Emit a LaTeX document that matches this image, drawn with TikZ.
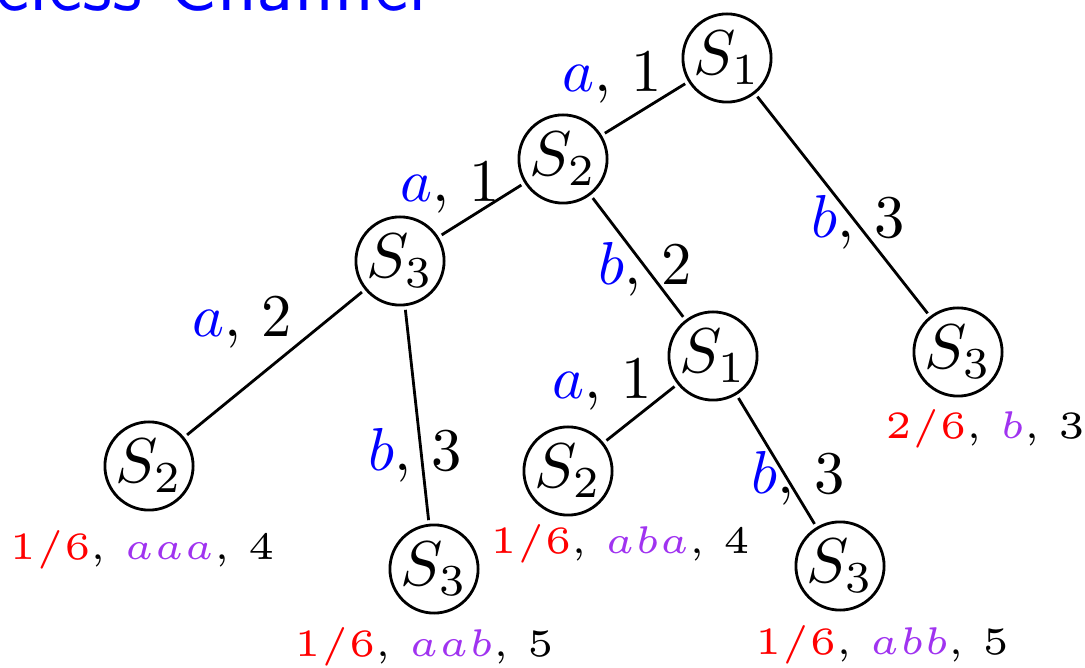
\documentclass[tikz,border=0pt]{standalone}
\usepackage{xcolor}
\usetikzlibrary{positioning}
\definecolor{ChanBlue}{HTML}{0000FF}
\definecolor{ChanRed}{HTML}{FF0000}
\definecolor{ChanPurple}{HTML}{A033F0}
\tikzset{
    % State node
    state/.style={
        circle,
        draw=black,
        line width=1.6pt,
        inner sep=0pt,
        minimum size=0.49cm,
        scale=3.6
    },
    % Edge label
    edgelabel/.style={
        inner sep=0pt,
        scale=3.45
    },
    % Leaf label
    leaf/.style={
        inner sep=0pt,
        font=\tiny,
        scale=4.4
    },
    % Tree branch
    branch/.style={
        line width=1.6pt,
        color=black
    }
}
\newcommand{\sym}[2]{\textcolor{ChanBlue}{$#1$}, $#2$}
\newcommand{\leafinfo}[3]{\textcolor{ChanRed}{$#1$}, \textcolor{ChanPurple}{$#2$}, $#3$}

\begin{document}
\begin{tikzpicture}[x=0.02cm, y=-0.02cm]
        \useasboundingbox (0,0) rectangle (1085,668);

        % Title (cut by the frame)
        \node (title) [anchor=base west, inner sep=0pt, text=ChanBlue, font=\sffamily, scale=4.4] at (-6,11) {eless Channel};

        % States
        \node (s1) [state] at (727,58) {$S_1$};
        \node (s2) [state] at (563,159) {$S_2$};
        \node (s3) [state] at (400,261) {$S_3$};
        \node (s3r) [state] at (958,352) {$S_3$};
        \node (s1m) [state] at (713,356) {$S_1$};
        \node (s2l) [state] at (149,466) {$S_2$};
        \node (s2m) [state] at (568,471) {$S_2$};
        \node (s3b) [state] at (434,569) {$S_3$};
        \node (s3rr) [state] at (840,566) {$S_3$};

        % Branches
        \draw [branch] (s1) -- (s2);
        \draw [branch] (s1) -- (s3r);
        \draw [branch] (s2) -- (s3);
        \draw [branch] (s2) -- (s1m);
        \draw [branch] (s3) -- (s2l);
        \draw [branch] (s3) -- (s3b);
        \draw [branch] (s1m) -- (s2m);
        \draw [branch] (s1m) -- (s3rr);

        % Branch labels
        \node (e12) [edgelabel] at (612,78) {\sym{a}{1}};
        \node (e13) [edgelabel] at (858,222) {\sym{b}{3}};
        \node (e23) [edgelabel] at (450,188) {\sym{a}{1}};
        \node (e21) [edgelabel] at (645,269) {\sym{b}{2}};
        \node (e32) [edgelabel] at (242,323) {\sym{a}{2}};
        \node (e33) [edgelabel] at (415,455) {\sym{b}{3}};
        \node (e1a) [edgelabel] at (602,385) {\sym{a}{1}};
        \node (e1b) [edgelabel] at (798,478) {\sym{b}{3}};

        % Leaves
        \node (l1) [leaf] at (142,550) {\leafinfo{1/6}{aaa}{4}};
        \node (l2) [leaf] at (424,647) {\leafinfo{1/6}{aab}{5}};
        \node (l3) [leaf] at (620,544) {\leafinfo{1/6}{aba}{4}};
        \node (l4) [leaf] at (882,645) {\leafinfo{1/6}{abb}{5}};
        \node (l5) [leaf] at (985,429) {\leafinfo{2/6}{b}{3}};
    \end{tikzpicture}
\end{document}
